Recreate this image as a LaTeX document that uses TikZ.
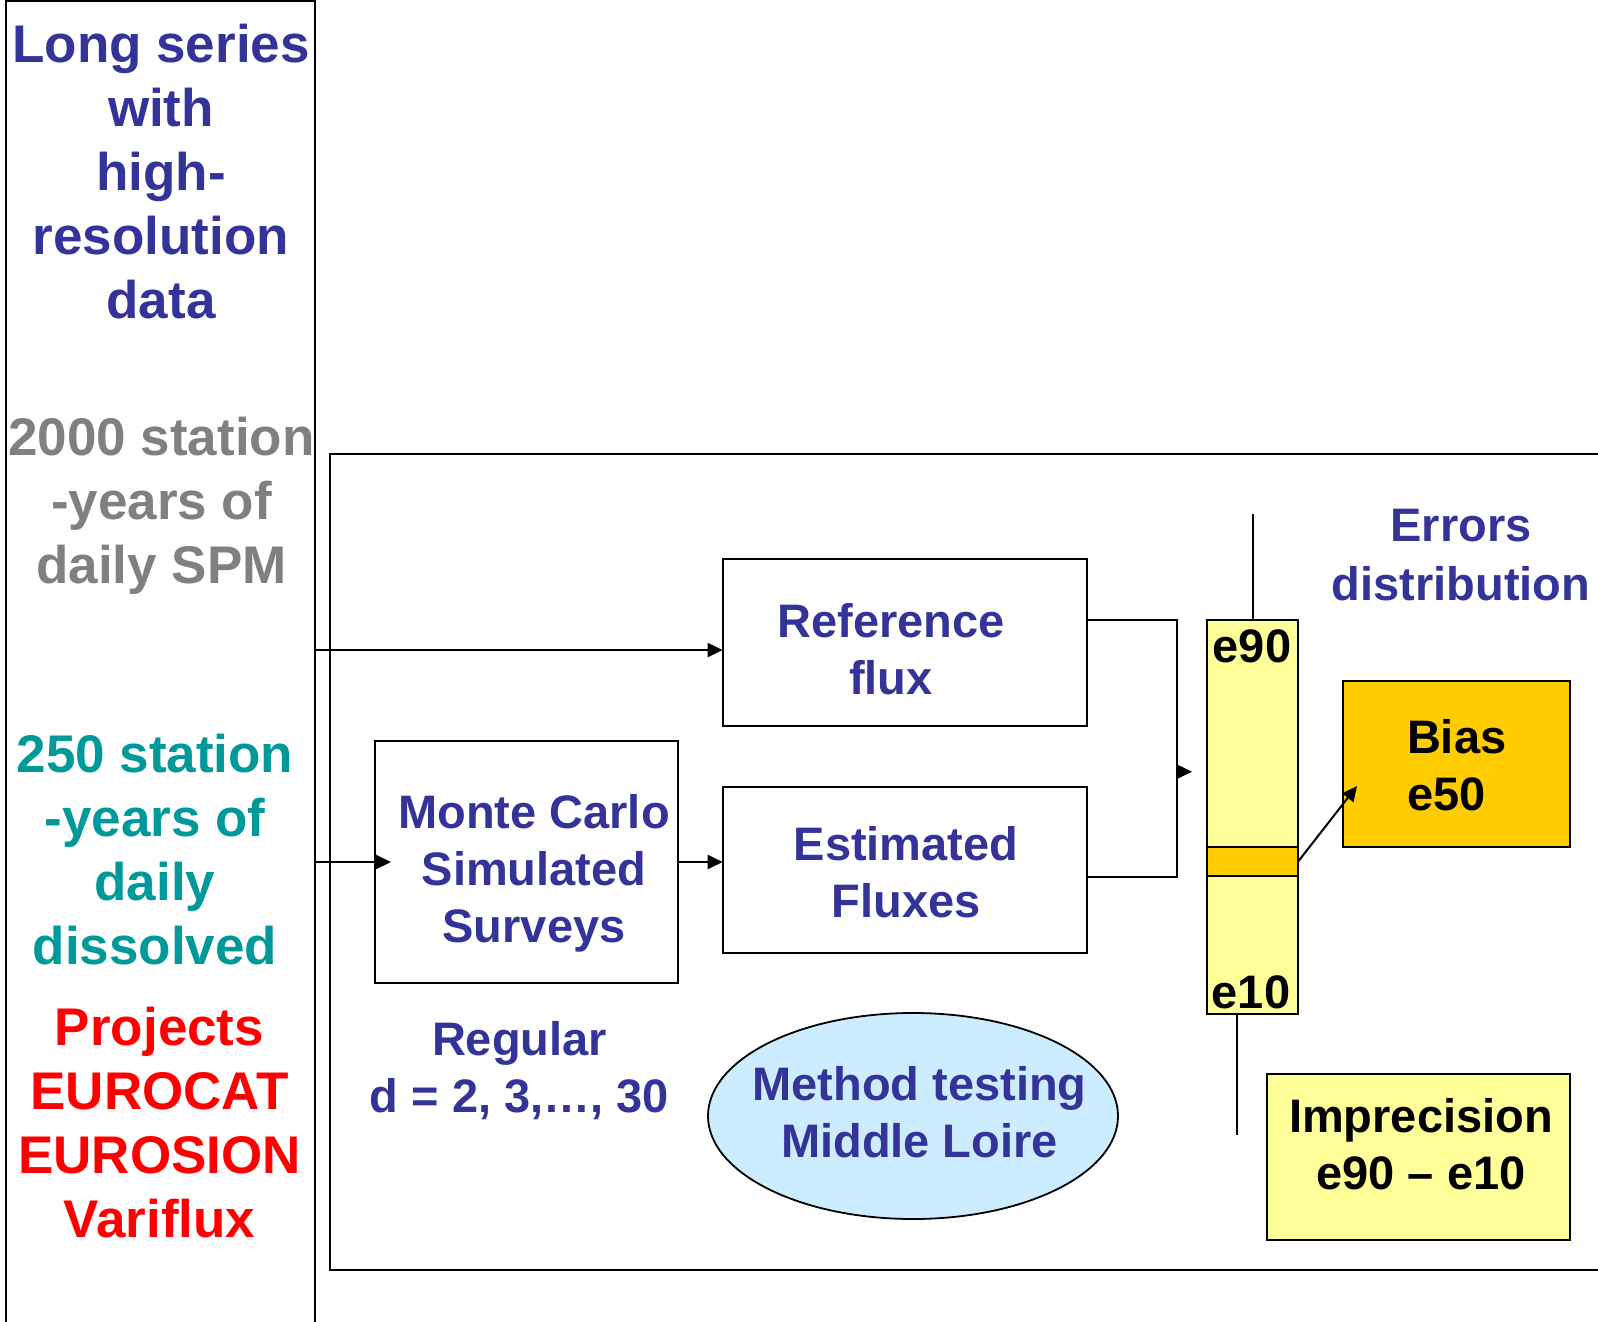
\documentclass[tikz,border=0pt]{standalone}
\usepackage{fontspec}
\setmainfont{Liberation Sans}
\usetikzlibrary{arrows.meta,shapes.geometric,calc}
\definecolor{tblue}{HTML}{333399}
\definecolor{tgrey}{HTML}{808080}
\definecolor{tteal}{HTML}{009999}
\definecolor{tred}{HTML}{FF0000}
\definecolor{lyellow}{HTML}{FFFF99}
\definecolor{gold}{HTML}{FFCC00}
\definecolor{lblue}{HTML}{CCECFF}
\begin{document}
\begin{tikzpicture}[x=1pt,y=-1pt,
  box/.style={draw=black, line width=2pt, rectangle, inner sep=0pt, outer sep=0pt, anchor=north west},
  big/.style={font=\fontsize{53}{64}\selectfont\bfseries, align=center, inner sep=0pt, outer sep=0pt, anchor=north},
  txt/.style={font=\fontsize{47}{57}\selectfont\bfseries, align=center, inner sep=0pt, outer sep=0pt, anchor=north},
  conn/.style={line width=2pt},
  arr/.style={line width=2pt, -{Triangle[length=15pt,width=14pt]}},
]
\useasboundingbox (0,0) rectangle (1598,1322);
\clip (0,0) rectangle (1598,1322);
\fill[white] (0,0) rectangle (1598,1322);

% frames
\node[box, minimum width=309pt, minimum height=1400pt] (leftbox) at (6,1.5) {};
\node[box, minimum width=1400pt, minimum height=816pt] (mainbox) at (330,454) {};

% boxes
\node[box, minimum width=364pt, minimum height=166.7pt] (ref) at (722.7,559.3) {};
\node[box, minimum width=364pt, minimum height=166.3pt] (est) at (722.7,786.7) {};
\node[box, minimum width=303pt, minimum height=242pt] (mc) at (375,741) {};
\node[box, fill=lyellow, minimum width=91pt, minimum height=393.6pt] (bar) at (1207,620.4) {};
\node[box, fill=gold, minimum width=91pt, minimum height=29.4pt] (band) at (1207,847) {};
\node[box, fill=gold, minimum width=227pt, minimum height=166pt] (bias) at (1343,681) {};
\node[box, fill=lyellow, minimum width=303pt, minimum height=166pt] (impr) at (1267,1074) {};
\node[ellipse, draw=black, line width=1.8pt, fill=lblue, inner sep=0pt, outer sep=0pt,
      minimum width=410pt, minimum height=206pt] (meth) at (913,1116) {};

% left column texts
\node[big, text=tblue] (t1) at (161,24) {Long series\\with\\high-\\resolution\\data};
\node[big, text=tgrey] (t2) at (161.5,417.3) {2000 station\\-years of\\daily SPM};
\node[big, text=tteal] (t3) at (155,733.8) {250 station\\-years of\\daily\\dissolved};
\node[big, text=tred] (t4) at (159.5,1006.8) {Projects\\EUROCAT\\EUROSION\\Variflux};

% main texts
\node[txt, text=tblue] (reft) at (891,603) {Reference\\flux};
\node[txt, text=tblue] (mct) at (534,794.2) {Monte Carlo\\Simulated\\Surveys};
\node[txt, text=tblue] (estt) at (906,826.2) {Estimated\\Fluxes};
\node[font=\fontsize{47}{58.5}\selectfont\bfseries, align=center, inner sep=0pt, outer sep=0pt, anchor=north, text=tblue] (errt) at (1461,509.5) {Errors\\distribution};
\node[txt, text=tblue] (regt) at (519.5,1021.2) {Regular\\d = 2, 3,…, 30};
\node[txt, text=tblue] (metht) at (919.5,1066.2) {Method testing\\Middle Loire};
\node[txt, anchor=base] (e90t) at (1252,662) {e90};
\node[txt, anchor=base] (e10t) at (1251,1008) {e10};
\node[txt, align=left, anchor=north west] (biast) at (1407,719.2) {Bias\\e50};
\node[txt] (imprt) at (1421,1098) {Imprecision\\e90 – e10};

% connectors
\coordinate (refin) at ([yshift=-7.4pt]ref.west);
\draw[arr] (leftbox.east |- refin) -- (refin);
\draw[arr] (leftbox.east |- mc.west) -- ([xshift=16pt]mc.west);
\draw[arr] (mc.east) -- (mc.east -| est.west);
\coordinate (refout) at ([yshift=22.6pt]ref.east);
\coordinate (estout) at ([yshift=-6.8pt]est.east);
\coordinate (join) at (1177,771.7);
\draw[conn] (refout) -| (join) |- (estout);
\draw[arr, shorten >=15pt] (join) -- (join -| bar.west);
\coordinate (wtop) at (1252.5,514);
\coordinate (wbot) at (1237.3,1135);
\draw[conn] (bar.north) -- (wtop);
\draw[conn] (bar.south -| wbot) -- (wbot);
\coordinate (biastip) at ([xshift=14pt,yshift=-22pt]bias.west);
\draw[arr] (band.east) -- (biastip);
\end{tikzpicture}
\end{document}
